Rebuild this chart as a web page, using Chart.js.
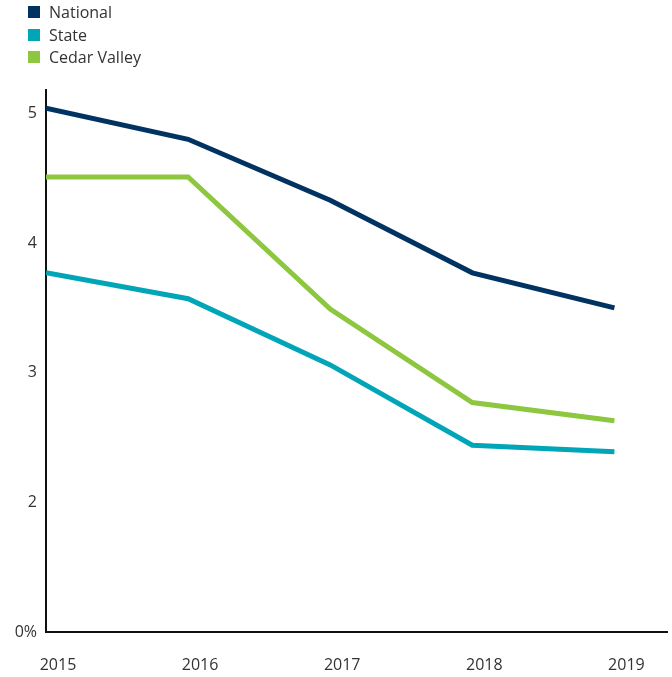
<!DOCTYPE html>
<html>
<head>
<meta charset="utf-8">
<script src="https://cdn.jsdelivr.net/npm/chart.js@4/dist/chart.umd.min.js"></script>
<style>
  html, body { margin: 0; padding: 0; background: #fff; }
  #wrap { position: relative; width: 672px; height: 677px; }
  #legend { position: absolute; left: 28px; top: 1px; font-family: "Open Sans", sans-serif; font-size: 16px; color: #333; }
  #legend .item { display: flex; align-items: center; height: 22.5px; }
  #legend .sw { width: 12px; height: 12px; margin-right: 9px; }
</style>
</head>
<body>
<div id="wrap">
  <canvas id="c" width="672" height="677"></canvas>
  <div id="legend"></div>
</div>
<script>
const years = [2015, 2016, 2017, 2018, 2019];
const yearLabels = ["2015", "2016", "2017", "2018", "2019"];
const seriesNames = ["National", "State", "Cedar Valley"];
const national = [5.04, 4.80, 4.33, 3.77, 3.50];
const state = [3.77, 3.57, 3.06, 2.44, 2.39];
const cedarValley = [4.51, 4.51, 3.49, 2.77, 2.63];
const yTickValues = [1, 2, 3, 4, 5];
const yTickLabels = ["0%", "2", "3", "4", "5"];
const colors = ["#003361", "#00A6B8", "#8DC63F"];

const seriesValues = [national, state, cedarValley];
const datasets = seriesNames.map((name, i) => ({
  label: name,
  data: years.map((y, j) => ({ x: y, y: seriesValues[i][j] })),
  borderColor: colors[i],
  backgroundColor: colors[i],
  borderWidth: 5,
  pointRadius: 0,
  pointHoverRadius: 0,
  tension: 0,
  fill: false,
  borderJoinStyle: 'miter',
  borderCapStyle: 'butt'
}));

// HTML legend
const leg = document.getElementById('legend');
seriesNames.forEach((n, i) => {
  const d = document.createElement('div');
  d.className = 'item';
  const s = document.createElement('span');
  s.className = 'sw';
  s.style.background = colors[i];
  const t = document.createElement('span');
  t.textContent = n;
  d.appendChild(s); d.appendChild(t);
  leg.appendChild(d);
});

const font = { family: '"Open Sans", sans-serif', size: 16 };

new Chart(document.getElementById('c'), {
  type: 'line',
  data: { datasets },
  options: {
    responsive: false,
    animation: false,
    maintainAspectRatio: false,
    layout: { padding: { top: 90, right: 5, left: 0, bottom: 0 } },
    plugins: { legend: { display: false }, tooltip: { enabled: false } },
    scales: {
      x: {
        type: 'linear',
        min: 2015,
        max: 2019.37,
        afterBuildTicks: (s) => { s.ticks = years.map(v => ({ value: v })); },
        afterFit: (s) => { s.height = 45; },
        grid: { display: false, drawTicks: false },
        border: { display: true, color: '#111', width: 2 },
        ticks: {
          font, color: '#333', padding: 24, labelOffset: 12, maxRotation: 0, autoSkip: false,
          callback: (v) => { const i = years.indexOf(v); return i >= 0 ? yearLabels[i] : ''; }
        }
      },
      y: {
        type: 'linear',
        min: 1,
        max: 5.18,
        afterBuildTicks: (s) => { s.ticks = yTickValues.map(v => ({ value: v })); },
        afterFit: (s) => { s.width = 46; },
        grid: { display: false, drawTicks: false },
        border: { display: true, color: '#111', width: 2 },
        ticks: {
          font, color: '#333', padding: 9, autoSkip: false,
          callback: (v) => { const i = yTickValues.indexOf(v); return i >= 0 ? yTickLabels[i] : ''; }
        }
      }
    }
  }
});
</script>
</body>
</html>
